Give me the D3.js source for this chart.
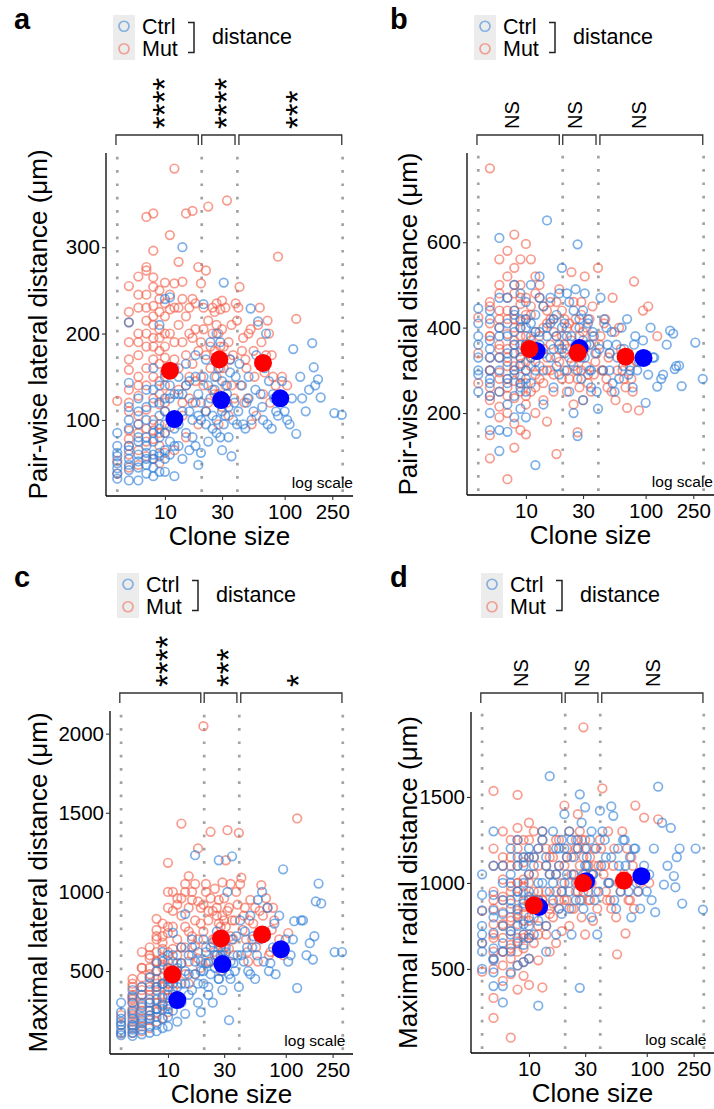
<!DOCTYPE html>
<html><head><meta charset="utf-8">
<script src="https://cdn.jsdelivr.net/npm/d3@7"></script>
<style>body{margin:0;background:#fff}svg{display:block}text{font-family:"Liberation Sans",Arial,Helvetica,sans-serif;fill:#000}</style>
</head><body><svg id="chart" width="714" height="1109"></svg>
<script>
// ---------------- DATA ----------------
const xTicks = [10, 30, 100, 250];
const binEdges = [4, 20.3, 40.3, 305];
const bins = [[3.9, 19], [20.3, 38.5], [41.5, 300]];
const seriesNames = ["Ctrl", "Mut"];

// clone sizes (shared by all four panels)
const mutSizes = [
 4,4,4,
 5,5,5,5,5,5,5,5,5,5,
 6,6,6,6,6,6,6,6,6,6,
 7,7,7,7,7,7,7,7,7,7,
 8,8,8,8,8,8,8,8,8,8,8,8,
 9,9,9,9,9,9,9,9,9,9,
 10,10,10,10,10,10,10,10,
 11,11,11,11,12,12,12,12,
 13,13,13,14,14,15,15,15,
 16,16,17,17,18,18,19,19,
 20,20,21,22,22,23,24,25,
 26,26,27,28,28,29,30,30,
 31,32,33,34,35,36,38,40,
 42,44,46,48,50,53,56,60,
 62,66,70,74,80,88,
 95,105,125,
 5,5,5,5,6,6,6,6,7,7,7,7,8,8,8,8,9,9,9,9,
 10,10,10,10,11,11,11,12,12,12,
 13,13,14,14,14,15,15,16,16,17,17,18,18,19,
 20,21,21,22,23,23,24,25,25,
 26,27,27,28,29,29,30,31,32,33,34,36,37,39,
 41,43,45,47,49,52,55,58,
 64,68,72,76,78,84];
const ctrlSizes = [
 4,4,4,4,4,4,
 5,5,5,5,5,5,5,5,
 6,6,6,6,6,6,
 7,7,7,7,7,7,
 8,8,8,8,8,8,8,
 9,9,9,9,9,9,
 10,10,10,10,10,10,
 11,11,11,12,12,12,
 13,13,14,14,14,15,15,
 16,16,17,17,18,19,19,
 20,20,21,22,23,23,24,25,
 26,27,27,28,29,30,30,
 31,32,33,34,35,36,38,40,
 42,45,48,50,52,55,58,60,
 63,66,70,74,78,82,88,
 95,100,110,118,125,
 140,160,170,175,190,200,
 260,300,
 4,4,5,5,5,6,6,6,7,7,7,8,8,8,9,9,9,
 10,10,10,11,11,12,12,
 13,13,14,15,16,17,18,18,19,
 20,21,22,22,24,25,26,27,28,29,30,
 31,33,34,35,37,39,41,44,47,50,53,57,
 65,68,72,80,85,105,115,135,150,180];

// a: pair-wise lateral distance (µm)
const mutA = [
 53,122,38,
 255,213,190,158,135,110,88,70,60,45,
 266,230,200,175,150,128,105,85,65,48,
 335,277,273,245,215,185,140,112,90,58,
 339,296,254,232,210,195,170,150,125,100,78,55,
 250,225,205,180,165,145,118,95,70,50,
 259,235,200,172,140,110,85,62,
 314,228,160,92,391,258,190,65,
 283,210,135,240,105,339,175,80,
 230,150,342,195,235,120,277,95,
 258,150,205,273,110,347,185,230,
 225,130,235,200,95,160,238,115,
 185,140,354,105,170,210,125,215,
 254,180,120,160,200,95,150,210,
 230,130,175,200,150,289,
 150,140,217,
 225,170,120,78,245,190,140,95,230,200,160,75,265,220,185,88,240,195,130,85,
 220,185,155,120,245,200,130,230,170,100,
 230,160,260,190,120,220,140,200,125,240,165,205,145,180,
 190,230,140,175,215,120,160,200,135,
 180,210,150,130,228,185,205,160,230,120,190,140,175,235,
 230,140,195,170,125,205,180,105,
 190,155,215,120,175,140];
const ctrlA = [
 58,50,44,38,32,70,
 213,143,115,90,70,55,42,30,
 125,95,75,60,45,30,
 135,100,80,62,48,38,
 160,120,95,75,60,45,35,
 210,140,105,80,58,40,
 240,150,110,85,65,40,
 242,125,60,160,90,35,
 130,70,300,110,55,165,85,
 145,65,120,80,175,105,48,
 120,62,234,95,140,75,190,105,
 150,200,85,120,190,110,65,
 259,105,140,80,155,58,120,95,
 165,95,120,150,229,110,175,214,
 130,100,200,145,90,125,105,
 145,110,95,182,84,
 125,135,189,161,147,126,
 108,106,
 85,62,100,65,48,110,80,52,115,70,55,135,85,55,120,90,62,
 125,95,55,140,75,130,70,
 150,95,130,140,110,100,150,70,130,
 100,150,170,110,125,90,135,100,160,80,145,
 95,130,115,170,100,150,110,140,90,125,100,135,
 115,160,95,130,110,100,125,150,110,140];

// b: pair-wise radial distance (µm)
const mutB = [
 424,270,340,
 773,148,94,450,380,330,300,260,410,230,
 560,500,440,400,360,330,295,250,215,190,
 45,580,470,420,385,350,310,280,240,200,
 618,119,540,480,440,400,370,340,310,275,235,175,
 560,500,455,415,380,345,315,285,250,160,
 596,470,420,360,320,270,220,150,
 560,430,330,250,520,390,290,200,
 500,380,280,450,230,410,330,180,
 460,300,420,250,104,380,490,320,
 440,280,360,400,250,330,530,220,
 420,300,155,380,260,460,340,230,
 520,400,290,360,250,450,320,540,
 380,300,420,260,340,470,230,400,
 350,280,212,310,508,206,
 440,450,380,
 460,380,300,240,480,420,350,280,520,440,330,260,500,420,360,300,470,400,330,270,
 430,380,300,240,450,370,310,480,340,260,
 470,310,400,350,270,440,300,420,360,390,290,460,330,350,
 380,420,300,350,410,280,370,460,310,
 400,330,280,360,430,300,390,350,310,270,420,380,290,340,
 360,300,410,280,330,250,390,300,
 300,260,340,280,250,320];
const ctrlB = [
 445,380,330,290,250,410,
 420,370,330,300,270,240,200,160,
 610,111,160,400,300,250,
 156,470,380,320,270,220,
 500,440,390,340,290,240,190,
 480,420,360,310,260,210,
 460,400,350,300,250,190,
 500,380,270,78,430,320,
 520,360,450,300,220,651,400,
 470,330,420,260,380,480,290,
 540,350,410,300,460,250,380,200,
 490,595,146,400,330,440,230,
 480,360,420,300,260,390,340,210,
 470,420,360,300,390,250,330,280,
 400,350,420,300,260,380,320,
 370,224,400,330,262,
 290,393,386,303,311,263,
 365,280,
 360,300,440,350,280,470,380,330,410,340,280,430,360,300,400,330,270,
 420,360,280,410,330,390,300,
 470,390,340,380,410,350,430,310,360,
 400,340,480,380,320,440,360,300,420,280,370,
 330,410,360,300,380,250,350,300,400,340,270,360,
 310,340,290,360,300,290,330,280,360,310];

// c: maximal lateral distance (µm)
const mutC = [
 222,107,160,
 450,400,350,300,260,220,180,140,110,330,
 620,520,460,400,350,300,250,200,150,120,
 650,580,520,460,400,350,300,250,190,140,
 830,760,700,620,560,500,450,400,350,300,240,180,
 800,720,640,580,520,460,400,340,280,200,
 1184,900,740,620,520,420,330,240,
 1000,780,560,380,920,700,500,300,
 1432,850,550,1000,650,1100,750,420,
 950,600,820,480,1275,700,900,520,
 2047,750,1000,880,560,1380,700,620,
 850,600,950,780,500,1060,820,650,
 1200,1390,900,720,820,600,1000,1373,
 1090,850,700,560,950,800,650,880,
 1043,720,900,620,820,700,
 600,740,1464,
 420,320,240,160,520,380,280,180,600,480,380,220,720,560,420,260,680,540,420,300,
 1000,780,560,380,880,640,450,960,600,420,
 960,650,1050,780,480,900,560,1000,720,1050,660,940,580,800,
 920,1050,650,820,960,560,880,1020,700,
 900,800,680,720,850,620,960,780,880,640,1050,700,820,920,
 1050,760,900,620,820,700,900,560,
 850,960,600,760,900,650];
const ctrlC = [
 130,110,95,160,200,300,
 380,300,250,200,160,130,110,90,
 350,270,210,170,130,100,
 420,320,250,200,150,110,
 500,400,320,260,210,160,120,
 560,420,330,260,200,140,
 600,450,350,280,210,150,
 742,420,250,520,330,180,
 550,300,860,420,230,600,350,
 650,380,1232,480,300,560,240,
 700,420,550,350,650,480,300,600,
 750,1200,450,600,380,520,700,
 650,1000,190,450,1225,550,720,400,
 600,750,500,850,650,450,950,700,
 1000,750,900,550,650,480,850,
 1143,700,600,815,393,
 820,676,573,720,1053,927,
 620,620,
 240,180,340,230,150,400,290,190,460,300,220,550,380,260,620,420,290,
 520,400,260,600,350,550,400,
 650,420,500,480,700,560,620,420,500,
 500,620,550,400,680,520,600,450,650,500,580,
 620,480,560,700,500,600,820,560,650,480,720,600,
 560,720,500,800,650,560,700,820,600,940];

// d: maximal radial distance (µm)
const mutD = [
 837,484,650,
 1535,215,331,1100,950,850,760,680,600,500,
 1300,1150,1020,920,830,750,680,600,520,430,
 100,1250,1100,980,880,800,720,640,560,470,
 1512,1320,1200,1100,1000,920,840,760,680,600,520,380,
 1250,1120,1020,940,860,780,700,620,540,460,
 1350,1150,1000,880,780,680,560,407,
 1300,1050,850,650,1200,950,750,550,
 1250,900,392,1100,700,1150,820,600,
 1200,800,1050,650,1250,900,1000,720,
 1450,900,1150,1300,750,1050,850,1200,
 1400,950,1100,800,1250,1905,1050,700,
 1200,900,1150,1000,780,1100,850,1250,
 1550,1100,900,1000,850,1200,585,950,
 1300,706,900,1150,1450,1000,
 1380,1000,1370,
 1200,900,700,560,1100,900,760,600,1150,950,780,620,1250,1000,820,660,1150,980,820,680,
 1250,1050,900,700,1150,950,800,1100,900,700,
 1300,900,1200,950,750,1050,850,1150,880,1250,950,1100,850,950,
 1100,1200,900,1000,1150,850,1050,1250,950,
 1200,1300,1000,900,1150,950,1250,1000,1100,900,1050,1200,950,1100,
 1200,1050,950,1300,900,1100,800,1000,
 1050,1200,900,1100,850,950];
const ctrlD = [
 930,840,750,600,500,700,
 1300,930,840,710,620,550,480,400,
 1100,900,750,650,400,305,
 1200,1000,850,720,600,480,
 1250,1100,950,850,750,650,520,
 1150,1000,880,760,640,540,
 1200,1050,920,800,680,560,
 1150,900,700,286,1000,780,
 1250,850,1100,750,600,1621,950,
 1300,900,1050,700,1200,950,820,
 1400,1000,1150,850,1250,700,1050,900,
 1200,1515,390,1000,850,1440,1100,
 1100,950,1250,800,1050,900,700,1420,
 1300,1150,1000,1445,1390,850,1100,950,
 1250,1100,950,800,1200,1000,850,
 1100,950,900,830,1560,
 990,1320,1040,975,1200,880,
 1200,845,
 1050,650,1100,800,560,1000,820,600,1050,900,700,1150,950,800,1100,900,700,
 1150,950,750,1100,850,1200,900,
 1300,1000,1150,1050,1000,1200,1100,850,1250,
 1200,1050,1300,950,1150,1000,1250,900,1350,1050,1200,
 1150,1000,1300,1050,1200,950,1100,1250,1000,1150,900,1200,
 1250,1000,1150,1200,950,1050,1200,1350,1100,1150];

// bin means [clone size, distance]
const meanMutA = [[11,157],[28.5,170],[66,166]];
const meanCtrlA = [[12,101],[29.5,123],[92,125]];
const meanMutB = [[10.7,350],[27,341],[68,332]];
const meanCtrlB = [[12.3,345],[28,352],[96,329]];
const meanMutC = [[10.9,479],[28.2,706],[63,731]];
const meanCtrlC = [[12,317],[29,544],[91,637]];
const meanMutD = [[11,870],[28.8,999],[64,1014]];
const meanCtrlD = [[12.2,860],[30.5,1010],[90,1039]];

const yTicksA = [100, 200, 300];
const yTicksB = [200, 400, 600];
const yTicksC = [500, 1000, 1500, 2000];
const yTicksD = [500, 1000, 1500];

const sigA = ["****", "****", "***"];
const sigB = ["NS", "NS", "NS"];
const sigC = ["****", "***", "*"];
const sigD = ["NS", "NS", "NS"];
const sigAtB = [7.7, 25.7, 88];

// ---------------- DRAW ----------------
const CTRL = "#2f7fd8", MUT = "#f2604b";
const xDomain = [3.22, 372.4];
const svg = d3.select("#chart");

const panels = [
 {letter:"a", x0:0, y0:0, left:106, right:353, top:153, bottom:496, yDomain:[12,409], yTicks:yTicksA,
  mut:mutA, ctrl:ctrlA, mMut:meanMutA, mCtrl:meanCtrlA, sig:sigA, sigAt:null,
  title:"Pair-wise lateral distance (\u03bcm)", titleX:40, logEnd:353, legX:113},
 {letter:"b", x0:357, y0:0, left:467, right:714, top:153, bottom:495, yDomain:[8,809], yTicks:yTicksB,
  mut:mutB, ctrl:ctrlB, mMut:meanMutB, mCtrl:meanCtrlB, sig:sigB, sigAt:sigAtB,
  title:"Pair-wise radial distance (\u03bcm)", titleX:409.5, logEnd:713, legX:474},
 {letter:"c", x0:0, y0:558, left:110, right:353, top:711, bottom:1054, yDomain:[-24,2143], yTicks:yTicksC,
  mut:mutC, ctrl:ctrlC, mMut:meanMutC, mCtrl:meanCtrlC, sig:sigC, sigAt:null,
  title:"Maximal lateral distance (\u03bcm)", titleX:40, logEnd:345.5, legX:117},
 {letter:"d", x0:357, y0:558, left:471, right:714, top:712, bottom:1053, yDomain:[11,1994], yTicks:yTicksD,
  mut:mutD, ctrl:ctrlD, mMut:meanMutD, mCtrl:meanCtrlD, sig:sigD, sigAt:null,
  title:"Maximal radial distance (\u03bcm)", titleX:409.5, logEnd:706.5, legX:481}
];

function drawPanel(p){
  const g = svg.append("g");
  const x = d3.scaleLog().domain(xDomain).range([p.left, p.right]);
  const y = d3.scaleLinear().domain(p.yDomain).range([p.bottom, p.top]);

  // dotted bin boundaries
  g.append("g").selectAll("line").data(binEdges).join("line")
    .attr("x1", d => x(d)).attr("x2", d => x(d))
    .attr("y1", p.bottom - 4).attr("y2", p.top)
    .attr("stroke", "#a3a3a3").attr("stroke-width", 2.7)
    .attr("stroke-dasharray", "2.7 10.6");

  // raw points
  const pairs = (sizes, vals) => sizes.map((s, i) => [s, vals[i]]).filter(d => d[1] != null);
  g.append("g").selectAll("circle").data(pairs(mutSizes, p.mut)).join("circle")
    .attr("cx", d => x(d[0])).attr("cy", d => y(d[1])).attr("r", 4.3)
    .attr("fill", "none").attr("stroke", MUT).attr("stroke-opacity", 0.62).attr("stroke-width", 1.7);
  g.append("g").selectAll("circle").data(pairs(ctrlSizes, p.ctrl)).join("circle")
    .attr("cx", d => x(d[0])).attr("cy", d => y(d[1])).attr("r", 4.3)
    .attr("fill", "none").attr("stroke", CTRL).attr("stroke-opacity", 0.62).attr("stroke-width", 1.7);

  // means
  g.append("g").selectAll("circle").data(p.mCtrl).join("circle")
    .attr("cx", d => x(d[0])).attr("cy", d => y(d[1])).attr("r", 9).attr("fill", "#0000ff");
  g.append("g").selectAll("circle").data(p.mMut).join("circle")
    .attr("cx", d => x(d[0])).attr("cy", d => y(d[1])).attr("r", 9).attr("fill", "#ff0000");

  // axes
  const ya = g.append("g").attr("transform", `translate(${p.left},0)`)
    .call(d3.axisLeft(y).tickValues(p.yTicks).tickFormat(d3.format("d")).tickSize(4).tickSizeOuter(0).tickPadding(2));
  const xa = g.append("g").attr("transform", `translate(0,${p.bottom})`)
    .call(d3.axisBottom(x).tickValues(xTicks).tickFormat(d3.format("d")).tickSize(4).tickSizeOuter(0).tickPadding(4));
  [ya, xa].forEach(a => {
    a.select(".domain").attr("stroke", "#000").attr("stroke-width", 1.3);
    a.selectAll(".tick line").attr("stroke", "#333").attr("stroke-width", 1.1);
    a.selectAll(".tick text").attr("font-size", 20.5).attr("fill", "#000")
      .style("font-family", '"Liberation Sans", Arial, sans-serif');
  });
  ya.select(".domain").attr("d", `M0,${p.bottom}V${p.top}`);
  xa.select(".domain").attr("d", `M${p.left},0H${p.right}`);

  // axis titles
  g.append("text").attr("transform", `translate(${p.titleX + 7},${(p.top + p.bottom) / 2}) rotate(-90)`)
    .attr("text-anchor", "middle").attr("font-size", 26).text(p.title);
  g.append("text").attr("x", (p.left + p.right) / 2).attr("y", p.bottom + 49)
    .attr("text-anchor", "middle").attr("font-size", 26).text("Clone size");

  g.append("text").attr("x", p.logEnd).attr("y", p.bottom - 8).attr("text-anchor", "end")
    .attr("font-size", 15.5).text("log scale");

  // panel letter
  g.append("text").attr("x", p.x0 + (p.x0 ? 33 : 14)).attr("y", p.y0 + 29)
    .attr("font-size", 29).attr("font-weight", "bold").text(p.letter);

  // legend
  const ly = p.y0 + 15;
  const lg = g.append("g");
  lg.append("rect").attr("x", p.legX).attr("y", ly).attr("width", 22).attr("height", 45).attr("fill", "#ececec");
  [CTRL, MUT].forEach((c, i) => {
    lg.append("circle").attr("cx", p.legX + 11).attr("cy", ly + 11.25 + 22.5 * i).attr("r", 5)
      .attr("fill", "none").attr("stroke", c).attr("stroke-opacity", 0.55).attr("stroke-width", 1.7);
    lg.append("text").attr("x", p.legX + 29).attr("y", ly + 18.5 + 22.5 * i).attr("font-size", 21.5).text(seriesNames[i]);
  });
  const bx = p.legX + 81;
  lg.append("path").attr("d", `M${bx - 6},${ly + 7.5}H${bx}V${ly + 37.5}H${bx - 6}`)
    .attr("fill", "none").attr("stroke", "#222").attr("stroke-width", 1.5);
  lg.append("text").attr("x", bx + 18).attr("y", ly + 28.5).attr("font-size", 21.5).text("distance");

  // significance brackets
  const by = p.y0 + 135;
  const sg = g.append("g");
  bins.forEach((b, i) => {
    const x1 = x(b[0]), x2 = x(b[1]);
    sg.append("path").attr("d", `M${x1},${by + 10}V${by}H${x2}V${by + 10}`)
      .attr("fill", "none").attr("stroke", "#333").attr("stroke-width", 1.3);
    const cx = p.sigAt ? x(p.sigAt[i]) : x(Math.sqrt(b[0] * b[1]));
    const isNS = p.sig[i] === "NS";
    const fs = isNS ? 20 : 33;
    const bl = cx + (isNS ? 0.358 : 0.58) * fs;
    sg.append("text").attr("transform", `translate(${bl},${by - 6}) rotate(-90)`)
      .attr("font-size", fs).text(p.sig[i]);
  });
}
panels.forEach(drawPanel);
</script></body></html>
